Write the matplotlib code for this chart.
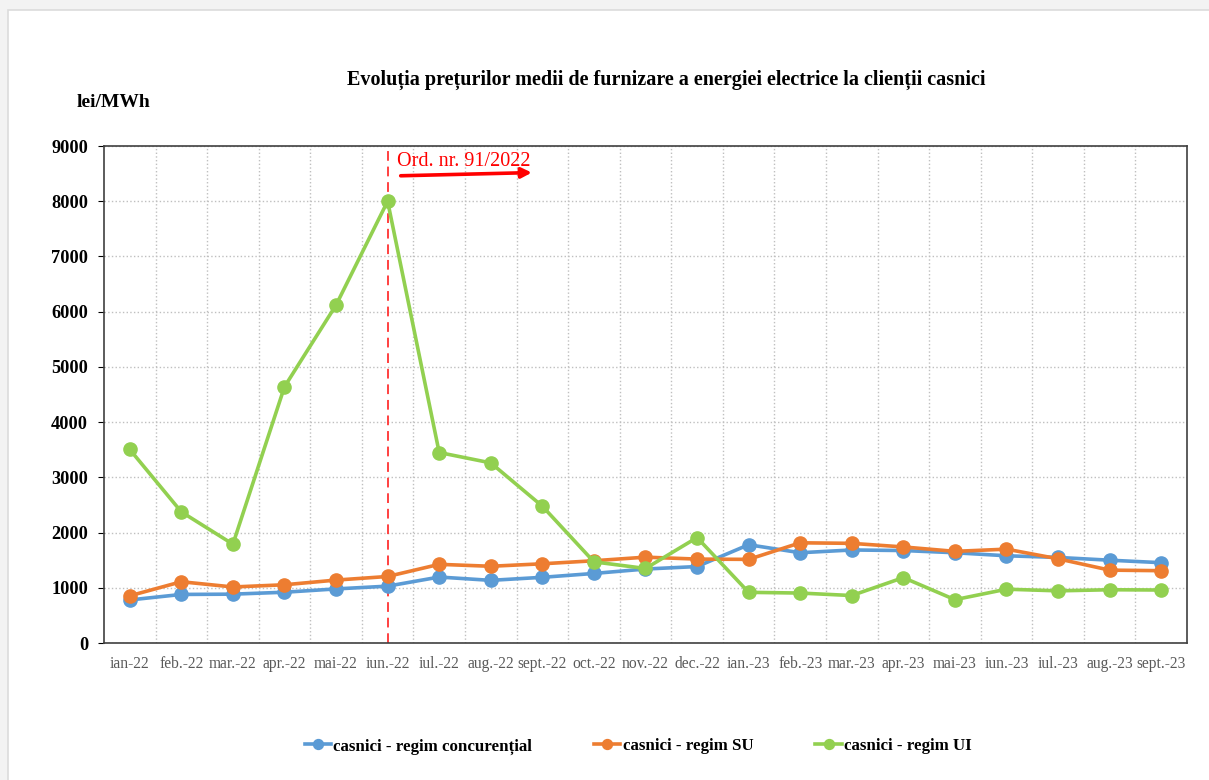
import matplotlib.pyplot as plt
from matplotlib.patches import Rectangle

luni = ["ian-22", "feb.-22", "mar.-22", "apr.-22", "mai-22", "iun.-22", "iul.-22",
        "aug.-22", "sept.-22", "oct.-22", "nov.-22", "dec.-22", "ian.-23", "feb.-23",
        "mar.-23", "apr.-23", "mai-23", "iun.-23", "iul.-23", "aug.-23", "sept.-23"]

concurential = [780, 880, 885, 920, 980, 1030, 1195, 1135, 1190, 1260, 1340, 1385,
                1780, 1635, 1685, 1675, 1635, 1580, 1550, 1500, 1455]
regim_su = [855, 1110, 1015, 1055, 1140, 1205, 1425, 1390, 1435, 1490, 1555, 1520,
            1515, 1815, 1805, 1740, 1660, 1700, 1525, 1320, 1310]
regim_ui = [3505, 2375, 1790, 4640, 6120, 8000, 3450, 3262, 2478, 1470, 1350, 1910,
            918, 905, 860, 1185, 785, 975, 945, 965, 960]

ordin_idx = 5

serie = [
    ("casnici - regim concurențial", concurential, "#5B9BD5"),
    ("casnici - regim SU", regim_su, "#ED7D31"),
    ("casnici - regim UI", regim_ui, "#92D050"),
]

plt.rcParams['font.family'] = ['Liberation Serif', 'DejaVu Serif']

fig = plt.figure(figsize=(12.09, 7.8), dpi=100, facecolor='#f3f3f3')
fig.patches.append(Rectangle((0.0066, -0.01), 1.0, 0.997, transform=fig.transFigure,
                             facecolor='white', edgecolor='#dcdcdc', lw=1.2, zorder=-1))
ax = fig.add_axes([0.086, 0.1756, 0.8958, 0.6372])

x = list(range(len(luni)))
for nume, vals, col in serie:
    ax.plot(x, vals, color=col, lw=2.6, marker='o', ms=9.5, label=nume, zorder=3)

ax.set_xlim(-0.5, len(luni) - 0.5)
ax.set_ylim(0, 9000)
ax.set_yticks(range(0, 9001, 1000))
ax.set_yticklabels([str(v) for v in range(0, 9001, 1000)], fontweight='bold', fontsize=13.2)
ax.set_xticks(x)
ax.set_xticklabels(luni, fontsize=11.2, color='#595959')
ax.set_xticks([i + 0.5 for i in x[:-1]], minor=True)
ax.tick_params(axis='x', which='both', length=0, pad=9)
ax.tick_params(axis='y', length=4, pad=7.5)
ax.grid(axis='y', which='major', ls=':', color='#bfbfbf', lw=1)
ax.grid(axis='x', which='minor', ls=':', color='#bfbfbf', lw=1)
for s in ax.spines.values():
    s.set_color('#404040')
    s.set_linewidth(1.2)

ax.axvline(ordin_idx, color='#ff4040', ls='--', lw=1.4, dashes=(5, 3), zorder=2)
ax.annotate("", xy=(ordin_idx + 2.85, 8520), xytext=(ordin_idx + 0.2, 8460),
            arrowprops=dict(arrowstyle='-|>', color='red', lw=2.6, mutation_scale=15))
ax.text(ordin_idx + 0.18, 8640, "Ord. nr. 91/2022", color='red', fontsize=14.5)

fig.text(0.551, 0.898, "Evoluția prețurilor medii de furnizare a energiei electrice la clienții casnici",
         ha='center', va='center', fontsize=14.5, fontweight='bold')
fig.text(0.0637, 0.868, "lei/MWh", ha='left', va='center', fontsize=14, fontweight='bold')

leg = fig.legend(loc='center', bbox_to_anchor=(0.528, 0.043), ncol=3, frameon=False,
                 prop={'weight': 'bold', 'size': 12.2}, handlelength=1.55,
                 handletextpad=0.15, columnspacing=3.65, markerscale=0.75)

fig.savefig("out.png", dpi=100, facecolor=fig.get_facecolor())
